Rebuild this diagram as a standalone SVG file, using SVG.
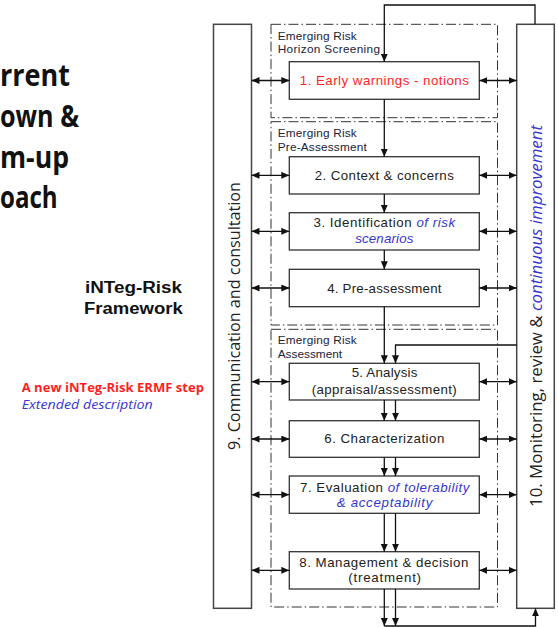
<svg xmlns="http://www.w3.org/2000/svg" width="558" height="627" viewBox="0 0 558 627">
<defs>
<marker id="ah" viewBox="0 0 8 7" markerWidth="8" markerHeight="7" refX="8" refY="3.5" orient="auto-start-reverse" markerUnits="userSpaceOnUse">
<path d="M0,0 L8,3.5 L0,7 z" fill="#111"/>
</marker>
<style>
.box{fill:#fff;stroke:#333;stroke-width:1.3}
.col{fill:#fff;stroke:#444;stroke-width:1.5}
.dd{fill:none;stroke:#333;stroke-width:1;stroke-dasharray:10 3 1.5 3}
.conn path{fill:none;stroke:#111;stroke-width:1.3}
.arr{marker-end:url(#ah)}
.dbl{marker-start:url(#ah);marker-end:url(#ah)}
.t{font-family:"Liberation Sans",Arial,sans-serif;font-size:13.3px;fill:#222;text-anchor:middle}
.lab{font-family:"Liberation Sans",Arial,sans-serif;font-size:11.8px;fill:#222238}
.bi{fill:#3535d0;font-style:italic}
.red{fill:#ff1f1f}
.side{font-family:"Open Sans","Liberation Sans",sans-serif;font-size:17px;fill:#222}
.big{font-family:"Open Sans","Liberation Sans",sans-serif;font-size:30px;font-weight:bold;fill:#111}
</style>
</defs>
<rect width="558" height="627" fill="#fff"/>

<g id="title">
<text class="big" x="0" y="86" textLength="70" lengthAdjust="spacingAndGlyphs">rrent</text>
<text class="big" x="0" y="127.3" textLength="79" lengthAdjust="spacingAndGlyphs">own &amp;</text>
<text class="big" x="0" y="168.3" textLength="69" lengthAdjust="spacingAndGlyphs">m-up</text>
<text class="big" x="0" y="208.3" textLength="57.7" lengthAdjust="spacingAndGlyphs">oach</text>
</g>

<g id="framework-label">
<text x="85" y="293.3" textLength="97" lengthAdjust="spacingAndGlyphs" style="font-family:'Liberation Sans',Arial,sans-serif;font-size:16px;font-weight:bold;fill:#111">iNTeg-Risk</text>
<text x="84" y="314.3" textLength="98.7" lengthAdjust="spacingAndGlyphs" style="font-family:'Liberation Sans',Arial,sans-serif;font-size:16px;font-weight:bold;fill:#111">Framework</text>
</g>

<g id="legend">
<text x="21.7" y="391.7" textLength="182.3" lengthAdjust="spacingAndGlyphs" style="font-family:'Open Sans',sans-serif;font-size:13px;font-weight:bold;fill:#ff1f1f">A new iNTeg-Risk ERMF step</text>
<text x="21.7" y="409.3" textLength="131" lengthAdjust="spacingAndGlyphs" style="font-family:'Open Sans',sans-serif;font-size:13px;font-style:italic;fill:#3535d0">Extended description</text>
</g>

<g id="stage-screening">
<rect class="dd" x="271" y="24.3" width="226.5" height="93.4"/>
<text class="lab" x="277.7" y="39.5" textLength="79">Emerging Risk</text>
<text class="lab" x="277.7" y="53.3" textLength="102.3">Horizon Screening</text>
</g>
<g id="stage-preassessment">
<rect class="dd" x="271" y="121.7" width="226.5" height="203.3"/>
<text class="lab" x="277.7" y="137.3" textLength="79">Emerging Risk</text>
<text class="lab" x="277.7" y="151" textLength="89">Pre-Assessment</text>
</g>
<g id="stage-assessment">
<rect class="dd" x="271" y="329.3" width="226.5" height="277.7"/>
<text class="lab" x="277.7" y="344" textLength="79">Emerging Risk</text>
<text class="lab" x="277.7" y="357.7" textLength="64.4">Assessment</text>
</g>

<g id="n9">
<rect class="col" x="213.5" y="24.3" width="38" height="584"/>
<text class="side" transform="translate(239.5,450) rotate(-90)" textLength="268" lengthAdjust="spacingAndGlyphs">9. Communication and consultation</text>
</g>
<g id="n10">
<rect class="col" x="516.7" y="24.3" width="37.6" height="584"/>
<text class="side" transform="translate(541.5,507) rotate(-90)" textLength="382" lengthAdjust="spacingAndGlyphs">10. Monitoring, review &amp; <tspan class="bi">continuous improvement</tspan></text>
</g>

<g id="n1">
<rect class="box" x="289.3" y="61.7" width="190" height="37.6"/>
<text class="t red" x="384.3" y="85.3" textLength="169">1. Early warnings - notions</text>
</g>
<g id="n2">
<rect class="box" x="289.3" y="156.7" width="190" height="37.3"/>
<text class="t" x="384.3" y="179.6" textLength="139">2. Context &amp; concerns</text>
</g>
<g id="n3">
<rect class="box" x="289.3" y="212.7" width="190" height="37.3"/>
<text class="t" x="384.3" y="227.3" textLength="141.7">3. Identification <tspan class="bi">of risk</tspan></text>
<text class="t bi" x="384.3" y="242.7" textLength="58.3">scenarios</text>
</g>
<g id="n4">
<rect class="box" x="289.3" y="269.3" width="190" height="37.4"/>
<text class="t" x="384.3" y="292.5" textLength="114.3">4. Pre-assessment</text>
</g>
<g id="n5">
<rect class="box" x="289.3" y="363.3" width="190" height="36.7"/>
<text class="t" x="384.5" y="377.3" textLength="65.7">5. Analysis</text>
<text class="t" x="384.3" y="393.5" textLength="145">(appraisal/assessment)</text>
</g>
<g id="n6">
<rect class="box" x="289.3" y="420.7" width="190" height="36.6"/>
<text class="t" x="384.3" y="442.7" textLength="120">6. Characterization</text>
</g>
<g id="n7">
<rect class="box" x="289.3" y="476" width="190" height="37.3"/>
<text class="t" x="384.7" y="491.7" textLength="169.3">7. Evaluation <tspan class="bi">of tolerability</tspan></text>
<text class="t bi" x="384.5" y="506.9" textLength="95.7">&amp; acceptability</text>
</g>
<g id="n8">
<rect class="box" x="289.3" y="551.7" width="190" height="37.3"/>
<text class="t" x="383.8" y="566.6" textLength="169">8. Management &amp; decision</text>
<text class="t" x="384.7" y="581.8" textLength="72.7">(treatment)</text>
</g>

<g id="connectors" class="conn">
<path class="arr" d="M535,24.3 V5 H384.3 V61.7"/>
<path class="arr" d="M384.3,99.3 V156.7"/>
<path class="arr" d="M384.3,194 V212.7"/>
<path class="arr" d="M384.3,250 V269.3"/>
<path class="arr" d="M384.3,306.7 V363.3"/>
<path class="arr" d="M516.7,345 H395.5 V363.3"/>
<path class="arr" d="M384.3,400 V420.7"/>
<path class="arr" d="M395.5,400 V420.7"/>
<path class="arr" d="M384.3,457.3 V476"/>
<path class="arr" d="M395.5,457.3 V476"/>
<path class="arr" d="M384.3,513.3 V551.7"/>
<path class="arr" d="M395.5,513.3 V551.7"/>
<path class="arr" d="M384.3,589 V626"/>
<path class="arr" d="M395.5,589 V626"/>
<path class="arr" d="M384.3,626 H535.5 V608.3"/>
<path class="dbl" d="M251.5,80.5 H289.3"/>
<path class="dbl" d="M479.3,80.5 H516.7"/>
<path class="dbl" d="M251.5,175.3 H289.3"/>
<path class="dbl" d="M479.3,175.3 H516.7"/>
<path class="dbl" d="M251.5,231.3 H289.3"/>
<path class="dbl" d="M479.3,231.3 H516.7"/>
<path class="dbl" d="M251.5,288 H289.3"/>
<path class="dbl" d="M479.3,288 H516.7"/>
<path class="dbl" d="M251.5,381.7 H289.3"/>
<path class="dbl" d="M479.3,381.7 H516.7"/>
<path class="dbl" d="M251.5,439 H289.3"/>
<path class="dbl" d="M479.3,439 H516.7"/>
<path class="dbl" d="M251.5,494.7 H289.3"/>
<path class="dbl" d="M479.3,494.7 H516.7"/>
<path class="dbl" d="M251.5,570.3 H289.3"/>
<path class="dbl" d="M479.3,570.3 H516.7"/>
</g>
</svg>
